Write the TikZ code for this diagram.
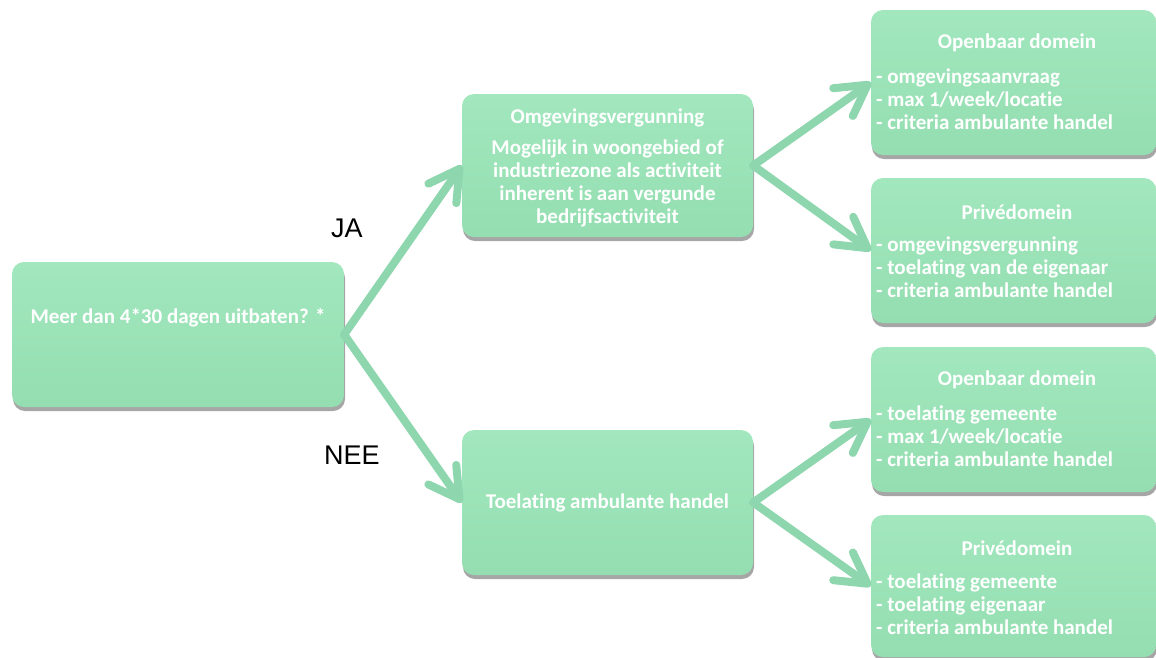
\documentclass[tikz,border=0pt]{standalone}
\usepackage{fontspec}
\setmainfont{Carlito}[Ligatures={NoCommon}]
\newfontfamily\labfont{Liberation Sans}
\usetikzlibrary{arrows.meta,shadows}
\definecolor{boxtop}{HTML}{A2E7BE}
\definecolor{boxbot}{HTML}{94DEB1}
\definecolor{arrcol}{HTML}{8DD6AE}
\tikzset{
  greenbox/.style={rectangle, rounded corners=12pt, top color=boxtop, bottom color=boxbot,
    inner sep=0pt, drop shadow={shadow xshift=1pt, shadow yshift=-4pt, opacity=0.35, fill=black}},
  boxtext/.style={inner sep=0pt, text=white, font=\bfseries\fontsize{21}{23}\selectfont},
  yesno/.style={inner sep=0pt, text=black, font=\labfont\fontsize{27}{30}\selectfont},
  arr/.style={draw=arrcol, line width=8pt, line cap=round,
    -{Straight Barb[length=30pt, width=34pt, round]}},
}
\begin{document}
\begin{tikzpicture}[x=1pt, y=-1pt]
\useasboundingbox (0,0) rectangle (1156,657);
% boxes
\node[greenbox, minimum width=332pt, minimum height=145pt] (b1) at (178,334.5) {};
\node[greenbox, minimum width=291pt, minimum height=143pt] (b2) at (607.5,165.5) {};
\node[greenbox, minimum width=291pt, minimum height=145pt] (b7) at (607.5,502.5) {};
\node[greenbox, minimum width=285pt, minimum height=145pt] (b3) at (1013.5,82.5) {};
\node[greenbox, minimum width=285pt, minimum height=145pt] (b4) at (1013.5,250.5) {};
\node[greenbox, minimum width=285pt, minimum height=145pt] (b5) at (1013.5,419.5) {};
\node[greenbox, minimum width=285pt, minimum height=142pt] (b6) at (1013.5,586) {};
% texts
\node[boxtext] (t1) at (178,318) {Meer dan 4*30 dagen uitbaten? *};
\node[boxtext, align=center] (t2) at (607.5,167.5) {Omgevingsvergunning\\[8pt]Mogelijk in woongebied of\\industriezone als activiteit\\inherent is aan vergunde\\bedrijfsactiviteit};
\node[boxtext] (t7) at (607.5,503) {Toelating ambulante handel};
\node[boxtext] (h3) at (1017,43) {Openbaar domein};
\node[boxtext, align=left, anchor=west] (l3) at (876,99) {- omgevingsaanvraag\\- max 1/week/locatie\\- criteria ambulante handel};
\node[boxtext] (h4) at (1017,212) {Privédomein};
\node[boxtext, align=left, anchor=west] (l4) at (876,267) {- omgevingsvergunning\\- toelating van de eigenaar\\- criteria ambulante handel};
\node[boxtext] (h5) at (1017,380) {Openbaar domein};
\node[boxtext, align=left, anchor=west] (l5) at (876,436) {- toelating gemeente\\- max 1/week/locatie\\- criteria ambulante handel};
\node[boxtext] (h6) at (1017,548) {Privédomein};
\node[boxtext, align=left, anchor=west] (l6) at (876,604) {- toelating gemeente\\- toelating eigenaar\\- criteria ambulante handel};
% labels
\node[yesno] (ja) at (347,228) {JA};
\node[yesno] (nee) at (352,455) {NEE};
% connectors
\draw[arr] (b1.east) -- (b2.west);
\draw[arr] (b1.east) -- (b7.west);
\draw[arr] (b2.east) -- (b3.west);
\draw[arr] (b2.east) -- (b4.west);
\draw[arr] (b7.east) -- (b5.west);
\draw[arr] (b7.east) -- (b6.west);
\end{tikzpicture}
\end{document}
